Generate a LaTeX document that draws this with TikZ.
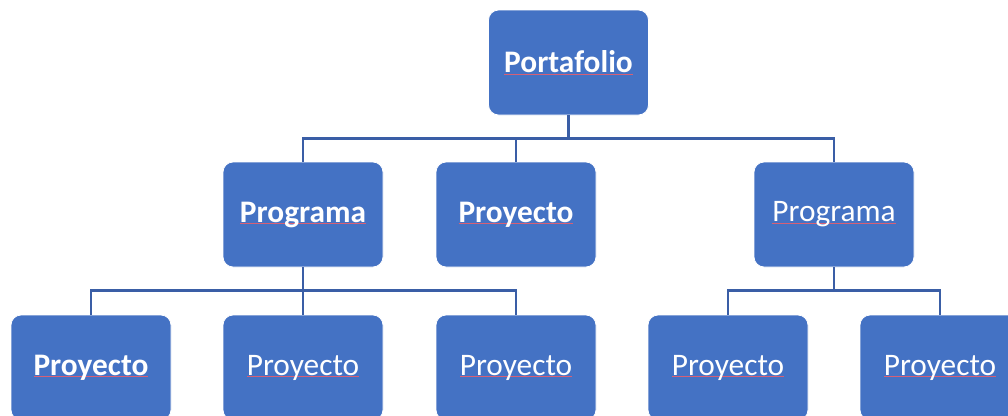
\documentclass[tikz,border=0pt]{standalone}
\usepackage{fontspec}
\setmainfont{Carlito}
\usetikzlibrary{calc}
\definecolor{boxblue}{HTML}{4472C4}
\definecolor{linkblue}{HTML}{3A5EA6}
\definecolor{squig}{RGB}{214,96,118}
\newcommand\sq[1]{\setbox0\hbox{#1}\raisebox{-1.2pt}{\rlap{\textcolor{squig}{\rule[-0.06em]{\wd0}{0.6pt}}}\box0}}
\tikzset{
  orgbox/.style={rectangle, rounded corners=7.5pt, fill=boxblue, draw=white, line width=0.6pt,
    minimum width=120pt, minimum height=78.75pt, inner sep=0pt, text=white,
    font=\fontsize{23.5}{28}\selectfont},
  bold/.style={font=\fontsize{23.5}{28}\selectfont\bfseries},
  link/.style={draw=linkblue, line width=2.2pt}
}
\begin{document}
\begin{tikzpicture}[x=0.75pt,y=-0.75pt]
\clip (0,0) rectangle (1008,415);
\fill[white] (0,0) rectangle (1008,415);
\node[orgbox,bold] (P) at (568.5,62.5) {\sq{Portafolio}};
\node[orgbox,bold] (A1) at (303,214.5) {\sq{Programa}};
\node[orgbox,bold] (A2) at (516,214.5) {\sq{Proyecto}};
\node[orgbox] (A3) at (834,214.5) {\sq{Programa}};
\node[orgbox,bold] (B1) at (91,367.5) {\sq{Proyecto}};
\node[orgbox] (B2) at (303,367.5) {\sq{Proyecto}};
\node[orgbox] (B3) at (516,367.5) {\sq{Proyecto}};
\node[orgbox] (B4) at (728,367.5) {\sq{Proyecto}};
\node[orgbox] (B5) at (940,367.5) {\sq{Proyecto}};
\foreach \c in {A1,A2,A3} \draw[link] (P.south) -- ++(0,23.5) -| (\c.north);
\foreach \c in {B1,B2,B3} \draw[link] (A1.south) -- ++(0,23.5) -| (\c.north);
\foreach \c in {B4,B5} \draw[link] (A3.south) -- ++(0,23.5) -| (\c.north);
\end{tikzpicture}
\end{document}
